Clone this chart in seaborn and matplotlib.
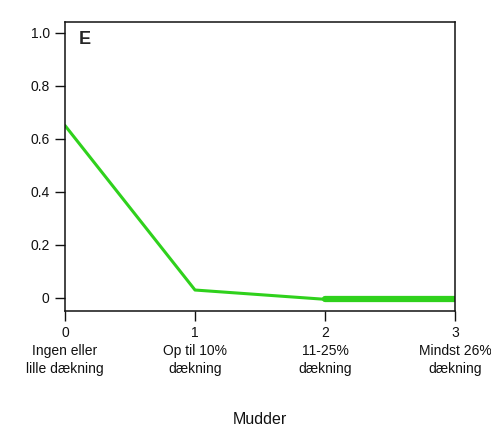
import pandas as pd
import matplotlib
matplotlib.use("Agg")
import matplotlib.pyplot as plt
import seaborn as sns

# data
levels = [0, 1, 2, 3]
probability = [0.65, 0.03, -0.005, -0.005]
tick_labels = [
    "0\nIngen eller\nlille dækning",
    "1\nOp til 10%\ndækning",
    "2\n11-25%\ndækning",
    "3\nMindst 26%\ndækning",
]
# last segment is drawn heavier in the original
heavy_levels = [2, 3]
heavy_probability = [-0.005, -0.005]

sns.set_style("ticks")
plt.rcParams['font.family'] = ['Liberation Sans', 'DejaVu Sans']

df = pd.DataFrame({"mudder": levels, "p": probability})
df_heavy = pd.DataFrame({"mudder": heavy_levels, "p": heavy_probability})

fig = plt.figure(figsize=(4.91, 4.33), dpi=100)
ax = fig.add_axes([0.1324, 0.2818, 0.7943, 0.6672])

green = "#2fd11c"
sns.lineplot(data=df, x="mudder", y="p", color=green, linewidth=2.2, ax=ax)
sns.lineplot(data=df_heavy, x="mudder", y="p", color=green, linewidth=4.5, ax=ax)

ax.set_xlim(0, 3)
ax.set_ylim(-0.049, 1.04)
ax.set_xticks(levels)
ax.set_xticklabels(tick_labels, fontsize=10, color="#111111", linespacing=1.35)
ax.set_yticks([0, 0.2, 0.4, 0.6, 0.8, 1.0])
ax.set_yticklabels(["0", "0.2", "0.4", "0.6", "0.8", "1.0"], fontsize=10, color="#111111")
ax.tick_params(axis="both", direction="out", length=7, width=1, color="#111111", pad=4)

for s in ax.spines.values():
    s.set_visible(True)
    s.set_linewidth(1.1)
    s.set_color("#111111")

ax.set_xlabel("Mudder", fontsize=11.5, color="#111111", labelpad=26)
ax.set_ylabel("")
ax.text(0.035, 0.97, "E", transform=ax.transAxes, fontsize=13, fontweight="bold",
        ha="left", va="top")

fig.savefig("out.png", dpi=100)
